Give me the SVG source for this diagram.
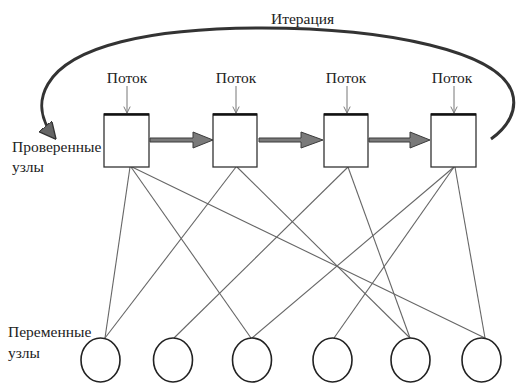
<svg xmlns="http://www.w3.org/2000/svg" width="518" height="384" viewBox="0 0 518 384">
  <style>
    text { font-family: "Liberation Serif", "DejaVu Serif", "Times New Roman", serif; font-size: 15.5px; fill: #222; }
    .chk { fill: #fff; stroke: #333; stroke-width: 1.3; }
    .chk-top { stroke: #111; stroke-width: 2.4; }
    .var { fill: #fff; stroke: #222; stroke-width: 1.6; }
    .edge { stroke: #666; stroke-width: 1.1; fill: none; }
    .flow { stroke: #777; stroke-width: 1; fill: none; }
    .pass { fill: #7a7a7a; stroke: #3a3a3a; stroke-width: 1; }
    .loop { fill: none; stroke: #333; stroke-width: 3; }
  </style>
  <defs>
    <marker id="flowHead" viewBox="0 0 10 10" refX="9" refY="5" markerWidth="8" markerHeight="8" markerUnits="userSpaceOnUse" orient="auto">
      <path d="M1 1 L9 5 L1 9" fill="none" stroke="#777" stroke-width="1.2"/>
    </marker>
    <marker id="loopHead" viewBox="0 0 10 10" refX="9" refY="5" markerWidth="17" markerHeight="17" markerUnits="userSpaceOnUse" orient="auto">
      <path d="M0 0 L10 5 L0 10 Z" fill="#666" stroke="#333" stroke-width="0.8"/>
    </marker>
  </defs>
  <rect width="518" height="384" fill="#fff"/>

  <!-- iteration loop -->
  <g id="iteration">
    <path class="loop" marker-end="url(#loopHead)" d="M491 139 C508 127 518 110 512 92 C498 52 390 28 262 28 C150 28 70 46 48 84 C38 101 40 120 55 138"/>
    <text x="271" y="24">Итерация</text>
  </g>

  <!-- connectors: check nodes to variable nodes -->
  <g id="connectors">
    <line class="edge" x1="130" y1="167" x2="105" y2="338"/>
    <line class="edge" x1="131" y1="167" x2="251" y2="338"/>
    <line class="edge" x1="132" y1="167" x2="485" y2="338"/>
    <line class="edge" x1="236" y1="167" x2="105" y2="338"/>
    <line class="edge" x1="237" y1="167" x2="410" y2="338"/>
    <line class="edge" x1="348" y1="167" x2="174" y2="338"/>
    <line class="edge" x1="348" y1="167" x2="410" y2="338"/>
    <line class="edge" x1="454" y1="167" x2="252" y2="338"/>
    <line class="edge" x1="454" y1="167" x2="334" y2="338"/>
    <line class="edge" x1="455" y1="167" x2="485" y2="338"/>
    <!-- passes between check nodes -->
    <path class="pass" d="M150 138 L193 138 L193 132 L213 140 L193 148 L193 142 L150 142 Z"/>
    <path class="pass" d="M259 138 L301 138 L301 132 L323 140 L301 148 L301 142 L259 142 Z"/>
    <path class="pass" d="M369 138 L410 138 L410 132 L430 140 L410 148 L410 142 L369 142 Z"/>
    <!-- flow inputs -->
    <line class="flow" marker-end="url(#flowHead)" x1="127" y1="86" x2="127" y2="113"/>
    <line class="flow" marker-end="url(#flowHead)" x1="236" y1="86" x2="236" y2="113"/>
    <line class="flow" marker-end="url(#flowHead)" x1="347" y1="86" x2="347" y2="113"/>
    <line class="flow" marker-end="url(#flowHead)" x1="454" y1="86" x2="454" y2="113"/>
  </g>

  <!-- check nodes -->
  <g id="check1">
    <rect class="chk" x="104" y="114" width="45" height="53"/>
    <line class="chk-top" x1="104" y1="114.5" x2="149" y2="114.5"/>
    <text x="127" y="83" text-anchor="middle">Поток</text>
  </g>
  <g id="check2">
    <rect class="chk" x="213" y="114" width="44" height="53"/>
    <line class="chk-top" x1="213" y1="114.5" x2="257" y2="114.5"/>
    <text x="236" y="83" text-anchor="middle">Поток</text>
  </g>
  <g id="check3">
    <rect class="chk" x="324" y="114" width="44" height="53"/>
    <line class="chk-top" x1="324" y1="114.5" x2="368" y2="114.5"/>
    <text x="346" y="83" text-anchor="middle">Поток</text>
  </g>
  <g id="check4">
    <rect class="chk" x="431" y="114" width="45" height="53"/>
    <line class="chk-top" x1="431" y1="114.5" x2="476" y2="114.5"/>
    <text x="452" y="83" text-anchor="middle">Поток</text>
  </g>

  <!-- variable nodes -->
  <g id="var1"><ellipse class="var" cx="100.5" cy="360" rx="19.5" ry="22"/></g>
  <g id="var2"><ellipse class="var" cx="173" cy="360" rx="19.5" ry="22"/></g>
  <g id="var3"><ellipse class="var" cx="252" cy="360" rx="19.5" ry="22"/></g>
  <g id="var4"><ellipse class="var" cx="332.5" cy="360" rx="19.5" ry="22"/></g>
  <g id="var5"><ellipse class="var" cx="410.5" cy="360" rx="19.5" ry="22"/></g>
  <g id="var6"><ellipse class="var" cx="481.5" cy="360" rx="19.5" ry="22"/></g>

  <!-- row captions -->
  <g id="caption-check">
    <text x="12" y="152">Проверенные</text>
    <text x="12" y="172">узлы</text>
  </g>
  <g id="caption-var">
    <text x="8" y="337">Переменные</text>
    <text x="8" y="358">узлы</text>
  </g>
</svg>
